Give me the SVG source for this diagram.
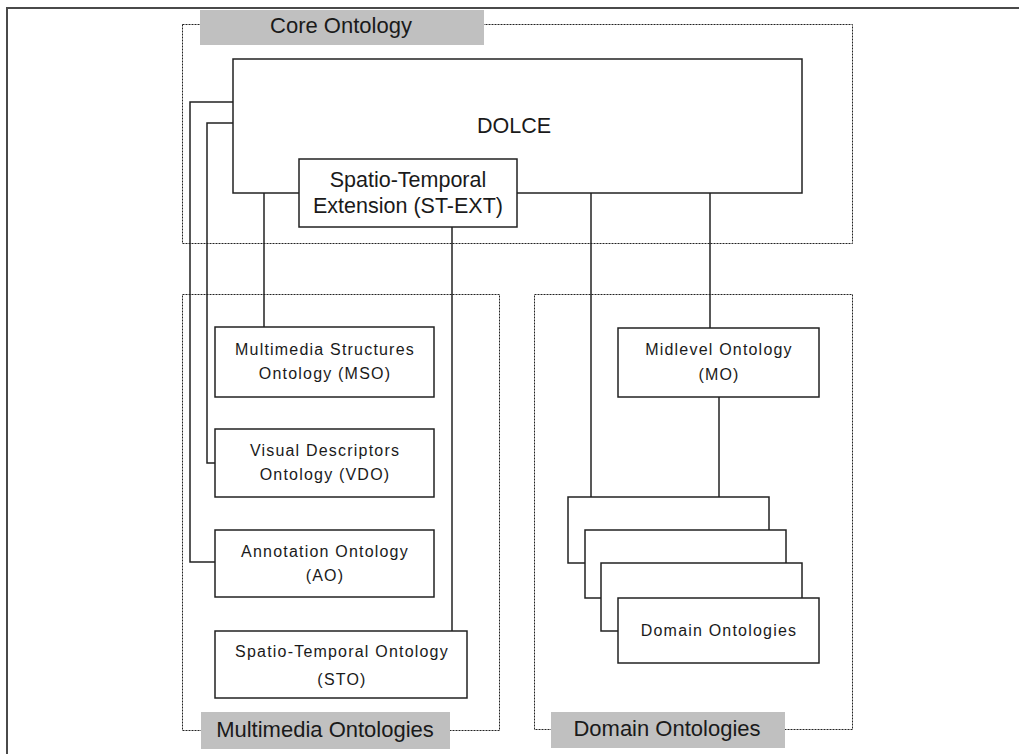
<svg xmlns="http://www.w3.org/2000/svg" width="1019" height="754" viewBox="0 0 1019 754">
  <style>
    .frame { fill: none; stroke: #4a4a4a; stroke-width: 2; }
    .group { fill: none; stroke: #222; stroke-width: 1; stroke-dasharray: 2 1; }
    .tag { fill: #c0c0c0; stroke: none; }
    .tag-text { font-family: "Liberation Sans", Arial, sans-serif; font-size: 22px; fill: #1a1a1a; text-anchor: middle; }
    .box { fill: #fff; stroke: #222; stroke-width: 1.5; }
    .big { font-family: "Liberation Sans", Arial, sans-serif; font-size: 21.5px; fill: #1a1a1a; text-anchor: middle; }
    .small { font-family: "Liberation Sans", Arial, sans-serif; font-size: 16px; letter-spacing: 1.2px; fill: #1a1a1a; text-anchor: middle; }
    .link { fill: none; stroke: #222; stroke-width: 1.5; }
  </style>

  <!-- page frame -->
  <path class="frame" d="M7,754 V8 H1019"/>

  <!-- grouping boxes (half-pixel offsets keep the 1px dotted outlines crisp) -->
  <g id="core-ontology">
    <rect class="group" x="182.5" y="24.5" width="670" height="219"/>
    <rect class="tag" x="200" y="10" width="284" height="35"/>
    <text class="tag-text" x="341" y="33">Core Ontology</text>
  </g>
  <g id="multimedia-ontologies">
    <rect class="group" x="182.5" y="294.5" width="317" height="436"/>
    <rect class="tag" x="201" y="712" width="249" height="37"/>
    <text class="tag-text" x="325" y="737">Multimedia Ontologies</text>
  </g>
  <g id="domain-ontologies-group">
    <rect class="group" x="534.5" y="294.5" width="318" height="435"/>
    <rect class="tag" x="551" y="712" width="234" height="36"/>
    <text class="tag-text" x="667" y="736">Domain Ontologies</text>
  </g>

  <!-- connectors -->
  <g id="connectors">
    <path class="link" d="M233,102 H190 V562 H215"/>
    <path class="link" d="M233,123 H207 V463 H215"/>
    <path class="link" d="M264,193 V327"/>
    <path class="link" d="M452,227 V631"/>
    <path class="link" d="M591,193 V497"/>
    <path class="link" d="M710,193 V328"/>
    <path class="link" d="M719,397 V497"/>
  </g>

  <!-- core nodes -->
  <g id="dolce">
    <rect class="box" x="233" y="59" width="569" height="134"/>
    <text class="big" x="514" y="133">DOLCE</text>
  </g>
  <g id="st-ext">
    <rect class="box" x="299" y="159" width="218" height="68"/>
    <text class="big" x="408" y="187">Spatio-Temporal</text>
    <text class="big" x="408" y="213">Extension (ST-EXT)</text>
  </g>

  <!-- multimedia nodes -->
  <g id="mso">
    <rect class="box" x="215" y="327" width="219" height="70"/>
    <text class="small" x="325" y="355">Multimedia Structures</text>
    <text class="small" x="325" y="379">Ontology (MSO)</text>
  </g>
  <g id="vdo">
    <rect class="box" x="215" y="429" width="219" height="68"/>
    <text class="small" x="325" y="456">Visual Descriptors</text>
    <text class="small" x="325" y="480">Ontology (VDO)</text>
  </g>
  <g id="ao">
    <rect class="box" x="215" y="530" width="219" height="67"/>
    <text class="small" x="325" y="557">Annotation Ontology</text>
    <text class="small" x="325" y="581">(AO)</text>
  </g>
  <g id="sto">
    <rect class="box" x="215" y="631" width="252" height="67"/>
    <text class="small" x="342" y="657">Spatio-Temporal Ontology</text>
    <text class="small" x="342" y="685">(STO)</text>
  </g>

  <!-- domain nodes -->
  <g id="mo">
    <rect class="box" x="618" y="328" width="201" height="69"/>
    <text class="small" x="719" y="355">Midlevel Ontology</text>
    <text class="small" x="719" y="380">(MO)</text>
  </g>
  <g id="domain-ontologies">
    <rect class="box" x="568" y="497" width="201" height="66"/>
    <rect class="box" x="585" y="530" width="201" height="68"/>
    <rect class="box" x="601" y="563" width="201" height="68"/>
    <rect class="box" x="618" y="598" width="201" height="65"/>
    <text class="small" x="719" y="636">Domain Ontologies</text>
  </g>
</svg>
